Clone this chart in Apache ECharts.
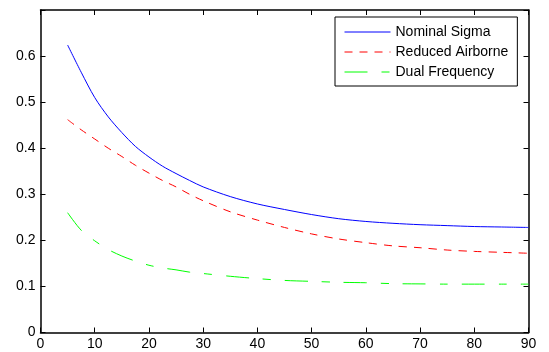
<!DOCTYPE html>
<html>
<head>
<meta charset="utf-8">
<script src="https://cdn.jsdelivr.net/npm/echarts@6/dist/echarts.min.js"></script>
<style>
html,body{margin:0;padding:0;background:#fff;}
#chart{width:549px;height:352px;}
</style>
</head>
<body>
<div id="chart"></div>
<script>
const xValues = [5,7.5,10,12.5,15,17.5,20,22.5,25,27.5,30,35,40,45,50,55,60,65,70,75,80,85,90];
const nominalSigma = [0.624,0.565,0.510,0.468,0.434,0.404,0.381,0.361,0.345,0.330,0.316,0.295,0.279,0.267,0.256,0.247,0.241,0.237,0.234,0.232,0.230,0.229,0.228];
const reducedAirborne = [0.462,0.440,0.420,0.400,0.382,0.363,0.346,0.330,0.316,0.300,0.286,0.262,0.244,0.228,0.214,0.203,0.195,0.188,0.184,0.179,0.176,0.174,0.172];
const dualFrequency = [0.260,0.222,0.199,0.180,0.166,0.155,0.146,0.140,0.136,0.131,0.128,0.122,0.117,0.113,0.111,0.109,0.108,0.106,0.1055,0.105,0.105,0.105,0.105];
const seriesNames = ['Nominal Sigma','Reduced Airborne','Dual Frequency'];
const xTicks = [0,10,20,30,40,50,60,70,80,90];
const yTicks = [0,0.1,0.2,0.3,0.4,0.5,0.6];

function pairs(ys){ return xValues.map((x,i)=>[x,ys[i]]); }

const font = 'Liberation Sans, Arial, sans-serif';
const chart = echarts.init(document.getElementById('chart'), null, {renderer:'canvas'});
const axisLine = {show:true, onZero:false, lineStyle:{color:'#000', width:1.5}};
const tick = {show:true, inside:true, length:5, lineStyle:{color:'#000', width:1}};
chart.setOption({
  animation:false,
  backgroundColor:'#fff',
  grid:{left:40.5, right:20.5, top:10, bottom:19.5, containLabel:false},
  legend:{
    show:true, orient:'vertical', left:335, top:17,
    data:seriesNames,
    backgroundColor:'#fff', borderColor:'#000', borderWidth:1,
    padding:[8,9,7,9], itemGap:6, itemWidth:46, itemHeight:15,
    itemStyle:{opacity:0},
    lineStyle:{width:1},
    textStyle:{fontFamily:font, fontSize:14, color:'#000'}
  },
  xAxis:[{
    type:'value', min:0, max:90, interval:10, position:'bottom',
    axisLine:axisLine, axisTick:tick, splitLine:{show:false},
    axisLabel:{color:'#000', fontFamily:font, fontSize:14, margin:5,
      formatter:v=> xTicks.includes(v)? String(v):''}
  },{
    type:'value', min:0, max:90, interval:10, position:'top',
    axisLine:axisLine, axisTick:tick, splitLine:{show:false}, axisLabel:{show:false}
  }],
  yAxis:[{
    type:'value', min:0, max:0.7, interval:0.1, position:'left',
    axisLine:axisLine, axisTick:tick, splitLine:{show:false},
    axisLabel:{color:'#000', fontFamily:font, fontSize:14, margin:5,
      formatter:v=>{ const r=Math.round(v*10)/10; return yTicks.includes(r)? String(r):''; }}
  },{
    type:'value', min:0, max:0.7, interval:0.1, position:'right',
    axisLine:axisLine, axisTick:tick, splitLine:{show:false}, axisLabel:{show:false}
  }],
  series:[
    {name:seriesNames[0], type:'line', data:pairs(nominalSigma), showSymbol:false, symbol:'none', smooth:0.3,
     lineStyle:{color:'#0000ff', width:1}, itemStyle:{color:'#0000ff'}},
    {name:seriesNames[1], type:'line', data:pairs(reducedAirborne), showSymbol:false, symbol:'none', smooth:0.3,
     lineStyle:{color:'#ff0000', width:1, type:[8,7]}, itemStyle:{color:'#ff0000'}},
    {name:seriesNames[2], type:'line', data:pairs(dualFrequency), showSymbol:false, symbol:'none', smooth:0.3,
     lineStyle:{color:'#00ff00', width:1, type:[23,14,8,14]}, itemStyle:{color:'#00ff00'}}
  ]
});
</script>
</body>
</html>
